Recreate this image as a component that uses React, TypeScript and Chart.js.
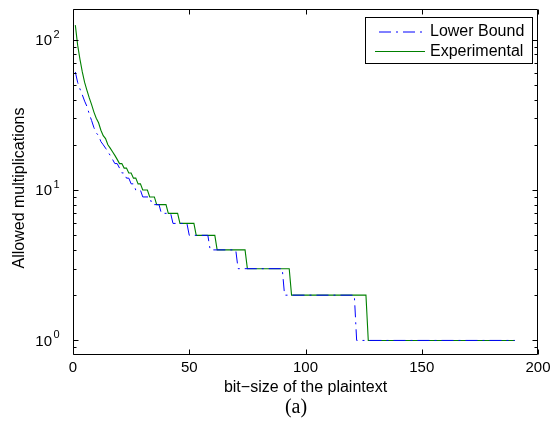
import React, { useEffect, useRef } from "react";
import { Chart, registerables } from "chart.js";

Chart.register(...registerables);

// ---- data ----
const seriesLabels = ["Lower Bound", "Experimental"];

// Experimental (green, solid): bit-size -> allowed multiplications
const expX = [
  1, 2, 3, 4, 5, 6, 7, 8, 9, 10, 11, 12, 13, 14, 15, 16, 17, 18, 19, 20,
  21, 22, 23, 24, 25, 26, 27, 28, 29, 30, 31, 32, 33, 34, 35,
  36, 40, 41, 45, 46, 52, 53, 61, 62, 74, 75, 93, 94, 126, 127, 190,
];
const expY = [
  125, 92, 74, 61, 52, 46, 41, 37, 33, 30, 28, 25, 23, 22, 20, 19, 18, 17, 16, 15,
  15, 14, 14, 13, 13, 12, 12, 11, 11, 10, 10, 10, 9, 9, 9,
  8, 8, 7, 7, 6, 6, 5, 5, 4, 4, 3, 3, 2, 2, 1, 1,
];

// Lower Bound (blue, dash-dot)
const lbX = [
  1, 2, 3, 4, 5, 6, 7, 8, 9, 10, 11, 12, 13, 14, 15, 16, 17, 18, 19, 20,
  21, 22, 23, 24, 25, 26, 27, 28, 29,
  30, 33, 34, 37, 38, 42, 43, 49, 50, 58, 59, 70, 71, 90, 91, 121, 122, 190,
];
const lbY = [
  61, 52, 47, 43, 39, 36, 32, 29, 26, 24, 23, 21, 20, 19, 18, 17, 16, 15, 15, 14,
  13, 13, 12, 12, 11, 11, 10, 10, 10,
  9, 9, 8, 8, 7, 7, 6, 6, 5, 5, 4, 4, 3, 3, 2, 2, 1, 1,
];

const xTicks = [0, 50, 100, 150, 200];
const yMajorTicks = [1, 10, 100];
const yMajorExponents = ["0", "1", "2"];
const yMinorTicks = [0.9, 2, 3, 4, 5, 6, 7, 8, 9, 20, 30, 40, 50, 60, 70, 80, 90];

const xLabel = "bit\u2212size of the plaintext";
const yLabel = "Allowed multiplications";
const caption = "(a)";

const FONT = "'Liberation Sans', Arial, Helvetica, sans-serif";
const BLUE = "#0000ff";
const GREEN = "#008000";
const BLUE_DASH = [12, 5, 2, 5];

const framePlugin = {
  id: "matlabFrame",
  afterDatasetsDraw(chart: any) {
    const { ctx, chartArea: a, scales } = chart;
    const x = scales.x;
    const y = scales.y;
    const L = Math.round(a.left) + 0.5;
    const R = Math.round(a.right) - 0.5;
    const T = Math.round(a.top) + 0.5;
    const B = Math.round(a.bottom) - 0.5;
    ctx.save();
    ctx.strokeStyle = "#000";
    ctx.lineWidth = 1;
    ctx.setLineDash([]);
    ctx.beginPath();
    ctx.rect(L, T, R - L, B - T);
    ctx.stroke();
    const seg = (x1: number, y1: number, x2: number, y2: number) => {
      ctx.beginPath();
      ctx.moveTo(x1, y1);
      ctx.lineTo(x2, y2);
      ctx.stroke();
    };
    for (const v of xTicks) {
      const px = Math.round(x.getPixelForValue(v)) + 0.5;
      seg(px, B, px, B - 5);
      seg(px, T, px, T + 5);
    }
    for (const v of yMajorTicks) {
      const py = Math.round(y.getPixelForValue(v)) + 0.5;
      seg(L, py, L + 5, py);
      seg(R, py, R - 5, py);
    }
    for (const v of yMinorTicks) {
      const py = Math.round(y.getPixelForValue(v)) + 0.5;
      if (py < T || py > B) continue;
      seg(L, py, L + 3, py);
      seg(R, py, R - 3, py);
    }
    // y tick labels 10^k
    ctx.fillStyle = "#000";
    yMajorTicks.forEach((v, i) => {
      const py = y.getPixelForValue(v);
      ctx.font = `15px ${FONT}`;
      ctx.textAlign = "right";
      ctx.textBaseline = "middle";
      ctx.fillText("10", 52, py + 1);
      ctx.font = `11px ${FONT}`;
      ctx.textAlign = "left";
      ctx.fillText(yMajorExponents[i], 53.5, py - 5);
    });
    // y axis title
    ctx.save();
    ctx.translate(20, 188);
    ctx.rotate(-Math.PI / 2);
    ctx.font = `16px ${FONT}`;
    ctx.textAlign = "center";
    ctx.textBaseline = "middle";
    ctx.fillText(yLabel, 0, 0);
    ctx.restore();
    // legend box
    const bx = 365.5, by = 17.5, bw = 167, bh = 46;
    ctx.fillStyle = "#fff";
    ctx.fillRect(bx, by, bw, bh);
    ctx.strokeStyle = "#000";
    ctx.strokeRect(bx, by, bw, bh);
    const rows = [
      { label: chart.data.datasets[0].label, color: BLUE, dash: BLUE_DASH, y: 32 },
      { label: chart.data.datasets[1].label, color: GREEN, dash: [], y: 51.5 },
    ];
    for (const r of rows) {
      ctx.strokeStyle = r.color;
      ctx.setLineDash(r.dash);
      ctx.lineDashOffset = -4;
      seg(375, r.y, 425, r.y);
      ctx.setLineDash([]);
      ctx.fillStyle = "#000";
      ctx.font = `16px ${FONT}`;
      ctx.textAlign = "left";
      ctx.textBaseline = "middle";
      ctx.fillText(r.label, 430, r.y);
    }
    ctx.restore();
  },
};

export default function App() {
  const ref = useRef<HTMLCanvasElement | null>(null);
  useEffect(() => {
    document.body.style.margin = "0";
    const canvas = ref.current;
    if (!canvas) return;
    const chart = new Chart(canvas, {
      type: "line",
      data: {
        datasets: [
          {
            label: seriesLabels[0],
            data: lbX.map((v, i) => ({ x: v, y: lbY[i] })),
            borderColor: BLUE,
            borderWidth: 1,
            borderDash: BLUE_DASH,
            pointRadius: 0,
            fill: false,
            tension: 0,
          },
          {
            label: seriesLabels[1],
            data: expX.map((v, i) => ({ x: v, y: expY[i] })),
            borderColor: GREEN,
            borderWidth: 1.1,
            pointRadius: 0,
            fill: false,
            tension: 0,
          },
        ],
      },
      options: {
        responsive: false,
        animation: false,
        layout: { padding: { left: 0, top: 9, right: 21, bottom: 37 } },
        plugins: {
          legend: { display: false },
          tooltip: { enabled: false },
        },
        scales: {
          x: {
            type: "linear",
            min: 0,
            max: 200,
            grid: { display: false, drawTicks: false },
            border: { display: false },
            ticks: {
              stepSize: 50,
              padding: 4,
              color: "#000",
              font: { family: FONT, size: 15 },
              maxRotation: 0,
            },
            afterFit: (s: any) => {
              s.height = 42;
            },
            title: {
              display: true,
              text: xLabel,
              color: "#000",
              font: { family: FONT, size: 16 },
              padding: { top: 0, bottom: 0 },
            },
          },
          y: {
            type: "logarithmic",
            min: 0.8,
            max: 160,
            grid: { display: false, drawTicks: false },
            border: { display: false },
            ticks: { display: false },
            afterFit: (s: any) => {
              s.width = 73;
            },
            title: { display: false },
          },
        },
      },
      plugins: [framePlugin],
    });
    return () => chart.destroy();
  }, []);

  return (
    <div style={{ position: "relative", width: 559, height: 434, background: "#fff" }}>
      <canvas ref={ref} width={559} height={434} style={{ width: 559, height: 434, display: "block" }} />
      <div
        style={{
          position: "absolute",
          left: 0,
          width: 592,
          top: 394,
          textAlign: "center",
          fontFamily: "'Liberation Serif', 'Times New Roman', serif",
          fontSize: 20,
          lineHeight: "24px",
          color: "#000",
        }}
      >
        {caption}
      </div>
    </div>
  );
}
